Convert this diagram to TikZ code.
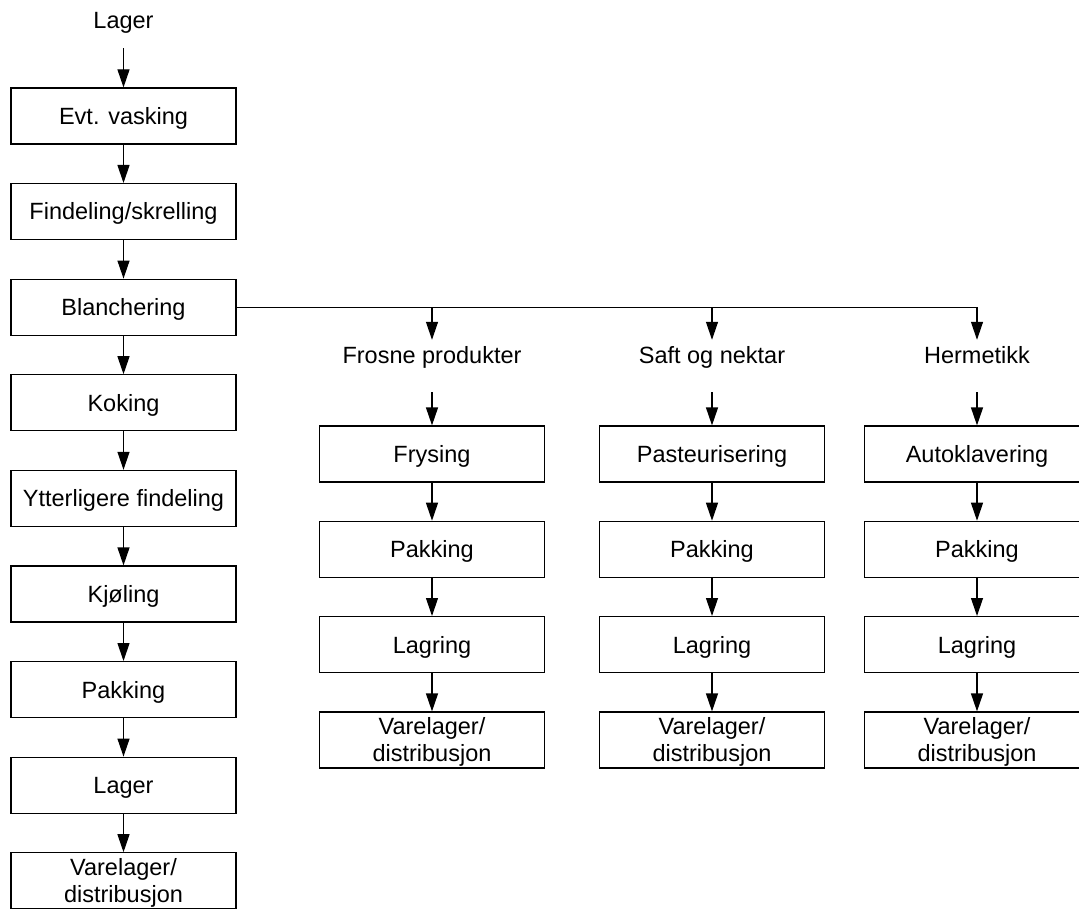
\documentclass[tikz,border=0pt]{standalone}
\usepackage{fontspec}
\setmainfont{Liberation Sans}
\usetikzlibrary{arrows.meta}
\begin{document}
\begin{tikzpicture}[x=1pt,y=-1pt,
  font=\fontsize{23.5}{27}\selectfont,
  stepbox/.style={draw, line width=1.2pt, minimum width=225pt, minimum height=56pt,
    inner sep=0pt, align=center, text height=16.8pt, text depth=0pt},
  twoline/.style={stepbox, text height=43pt, text depth=0pt},
  label/.style={inner sep=0pt, minimum height=30pt, text height=16.8pt, text depth=0pt},
  arr/.style={line width=1.2pt, -{Triangle[length=18pt,width=12pt]}},
  link/.style={line width=1.2pt}]
\useasboundingbox (0,0) rectangle (1079,909);

% main line, left column
\node[label] (lager0) at (123.5,20) {Lager};
\node[stepbox] (vask)  at (123.5,116)   {Evt. vasking};
\node[stepbox] (find)  at (123.5,211.6) {Findeling/skrelling};
\node[stepbox] (blanch) at (123.5,307.2) {Blanchering};
\node[stepbox] (kok)   at (123.5,402.8) {Koking};
\node[stepbox] (ytt)   at (123.5,498.4) {Ytterligere findeling};
\node[stepbox] (kjol)  at (123.5,594)   {Kjøling};
\node[stepbox] (pakk)  at (123.5,689.6) {Pakking};
\node[stepbox] (lager) at (123.5,785.2) {Lager};
\node[twoline] (vare)  at (123.5,880.8) {Varelager/\\distribusjon};

\draw[arr] (lager0.south) ++(0,13) -- (vask.north);
\draw[arr] (vask) -- (find);
\draw[arr] (find) -- (blanch);
\draw[arr] (blanch) -- (kok);
\draw[arr] (kok) -- (ytt);
\draw[arr] (ytt) -- (kjol);
\draw[arr] (kjol) -- (pakk);
\draw[arr] (pakk) -- (lager);
\draw[arr] (lager) -- (vare);

% branch from blanching to the three product lines
\coordinate (j1) at (432,307.2);
\coordinate (j2) at (712,307.2);
\coordinate (j3) at (977,307.2);
\draw[link] (blanch.east) -- (j3);

\foreach \c/\x/\name/\first in {a/432/Frosne produkter/Frysing,
                                 b/712/Saft og nektar/Pasteurisering,
                                 c/977/Hermetikk/Autoklavering}{
  \node[label] (\c lab) at (\x,355) {\name};
  \node[stepbox] (\c1) at (\x,454)   {\first};
  \node[stepbox] (\c2) at (\x,549.3) {Pakking};
  \node[stepbox] (\c3) at (\x,644.6) {Lagring};
  \node[twoline] (\c4) at (\x,740)   {Varelager/\\distribusjon};
  \draw[arr] (\x,307.2) -- (\c lab.north);
  \draw[arr] (\c lab.south) ++(0,22) -- (\c1.north);
  \draw[arr] (\c1) -- (\c2);
  \draw[arr] (\c2) -- (\c3);
  \draw[arr] (\c3) -- (\c4);
}
\end{tikzpicture}
\end{document}
